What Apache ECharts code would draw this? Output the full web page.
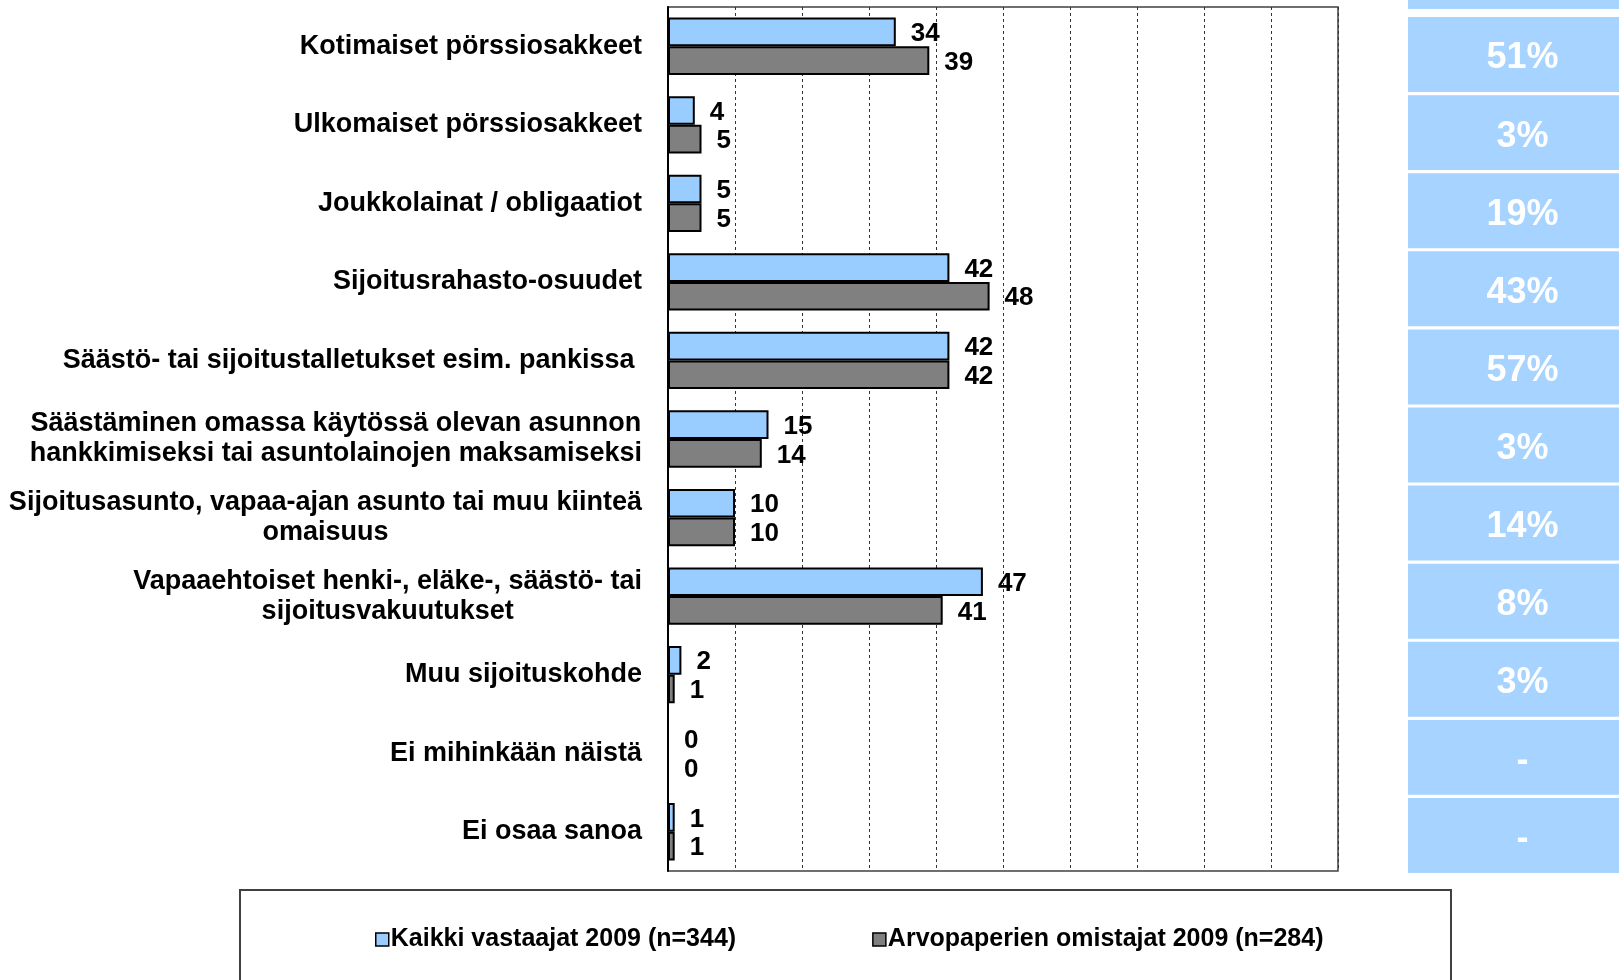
<!DOCTYPE html>
<html lang="fi">
<head>
<meta charset="UTF-8">
<title>Sijoituskohteet</title>
<script src="https://cdn.jsdelivr.net/npm/echarts@6/dist/echarts.min.js"></script>
<style>
  html, body { margin: 0; padding: 0; background: #fff; }
  #chart { width: 1619px; height: 980px; }
</style>
</head>
<body>
<div id="chart"></div>
<script>
    // categories, top to bottom
    var categories = [
        'Kotimaiset pörssiosakkeet',
        'Ulkomaiset pörssiosakkeet',
        'Joukkolainat / obligaatiot',
        'Sijoitusrahasto-osuudet',
        'Säästö- tai sijoitustalletukset esim. pankissa ',
        'Säästäminen omassa käytössä olevan asunnon\nhankkimiseksi tai asuntolainojen maksamiseksi',
        'Sijoitusasunto, vapaa-ajan asunto tai muu kiinteä\nomaisuus',
        'Vapaaehtoiset henki-, eläke-, säästö- tai\nsijoitusvakuutukset',
        'Muu sijoituskohde',
        'Ei mihinkään näistä',
        'Ei osaa sanoa'
    ];
    var seriesNames = ['Kaikki vastaajat 2009 (n=344)', 'Arvopaperien omistajat 2009 (n=284)'];
    var allRespondents = [34, 4, 5, 42, 42, 15, 10, 47, 2, 0, 1];
    var securityOwners = [39, 5, 5, 48, 42, 14, 10, 41, 1, 0, 1];
    // right-hand column
    var sideLabels = ['51%', '3%', '19%', '43%', '57%', '3%', '14%', '8%', '3%', '-', '-'];

    var font = '"Liberation Sans", Arial, sans-serif';

    var chart = echarts.init(document.getElementById('chart'));

    var option = {
        animation: false,
        textStyle: {fontFamily: font},
        grid: [
            {left: 668, top: 7, width: 670, height: 864, show: true, borderColor: '#404040', borderWidth: 1.5},
            {left: 1408, top: 15.5, width: 228, height: 859}
        ],
        xAxis: [
            {
                type: 'value', gridIndex: 0, min: 0, max: 100, interval: 10,
                axisLine: {show: false}, axisTick: {show: false}, axisLabel: {show: false},
                splitLine: {show: true, lineStyle: {color: '#333', width: 1, type: [3, 3]}}
            },
            {type: 'value', gridIndex: 1, min: 0, max: 1, show: false}
        ],
        yAxis: [
            {
                type: 'category', gridIndex: 0, data: categories, inverse: true,
                axisLine: {show: true, lineStyle: {color: '#000', width: 2}},
                axisTick: {show: false},
                axisLabel: {
                    margin: 26,
                    formatter: function (v) {
                        // centre each line inside the label block
                        return v.split('\n').map(function (l) { return '{c|' + l + '}'; }).join('\n');
                    },
                    rich: {
                        c: {align: 'center', fontSize: 27, fontWeight: 'bold', fontFamily: font, color: '#000', lineHeight: 30}
                    }
                }
            },
            {type: 'category', gridIndex: 1, data: categories, inverse: true, show: false}
        ],
        legend: {
            data: seriesNames,
            left: 370, top: 922,
            icon: 'rect',
            itemWidth: 13, itemHeight: 13, itemGap: 136,
            itemStyle: {borderColor: '#000', borderWidth: 1.5},
            textStyle: {fontSize: 25, fontWeight: 'bold', fontFamily: font, color: '#000', padding: [0, 0, 0, -3]}
        },
        graphic: [
            {type: 'rect', shape: {x: 240, y: 890, width: 1211, height: 200}, style: {fill: 'none', stroke: '#404040', lineWidth: 2}, z: 0},
            {type: 'rect', shape: {x: 1408, y: 0, width: 240, height: 9}, style: {fill: '#A6D3FF'}}
        ],
        series: [
            {
                name: seriesNames[0], type: 'bar', xAxisIndex: 0, yAxisIndex: 0,
                data: allRespondents, barGap: '0%', barCategoryGap: '27%',
                itemStyle: {color: '#99CCFF', borderColor: '#000', borderWidth: 2},
                label: {show: true, position: 'right', distance: 15, offset: [0, 2], fontSize: 26, fontWeight: 'bold', color: '#000', fontFamily: font}
            },
            {
                name: seriesNames[1], type: 'bar', xAxisIndex: 0, yAxisIndex: 0,
                data: securityOwners, barGap: '0%', barCategoryGap: '27%',
                itemStyle: {color: '#808080', borderColor: '#000', borderWidth: 2},
                label: {show: true, position: 'right', distance: 15, offset: [0, 2], fontSize: 26, fontWeight: 'bold', color: '#000', fontFamily: font}
            },
            {
                type: 'bar', xAxisIndex: 1, yAxisIndex: 1, barCategoryGap: '4%',
                data: sideLabels.map(function (s) { return {value: 1, name: s}; }),
                itemStyle: {color: '#A6D3FF'},
                silent: true,
                label: {
                    show: true, position: 'inside', offset: [9, 4],
                    formatter: function (p) { return p.name; },
                    fontSize: 36, fontWeight: 'bold', color: '#fff', fontFamily: font
                }
            }
        ]
    };

    chart.setOption(option);
</script>
</body>
</html>
